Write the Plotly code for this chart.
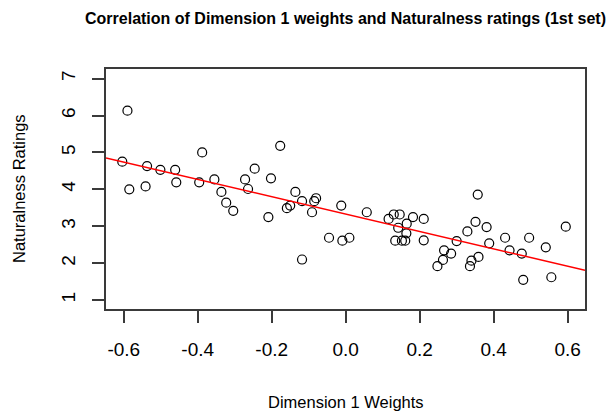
import plotly.graph_objects as go

# Dimension 1 weights (x) and naturalness ratings (y)
dim1_weights = [
    -0.590, -0.604, -0.585, -0.537, -0.541, -0.501, -0.461, -0.458, -0.388, -0.396,
    -0.355, -0.336, -0.323, -0.304, -0.272, -0.264, -0.246,
    -0.177, -0.202, -0.209, -0.136, -0.159, -0.150, -0.118, -0.118, -0.091, -0.085,
    -0.080, -0.045, -0.012, -0.009, 0.010, 0.057, 0.116, 0.130, 0.146, 0.142, 0.165,
    0.182, 0.164, 0.134, 0.152, 0.161,
    0.211, 0.211, 0.357, 0.351, 0.329, 0.381, 0.300, 0.388, 0.266, 0.285, 0.263,
    0.248, 0.340, 0.336, 0.359, 0.431, 0.443, 0.476, 0.496, 0.541, 0.595, 0.480, 0.556,
]
naturalness = [
    6.13, 4.75, 4.00, 4.63, 4.08, 4.53, 4.53, 4.19, 5.00, 4.19,
    4.27, 3.93, 3.64, 3.42, 4.27, 4.01, 4.56,
    5.18, 4.30, 3.25, 3.93, 3.49, 3.56, 3.68, 2.10, 3.38, 3.68,
    3.76, 2.69, 3.56, 2.61, 2.69, 3.38, 3.20, 3.32, 3.32, 2.96, 3.07,
    3.25, 2.81, 2.61, 2.61, 2.61,
    3.20, 2.62, 3.86, 3.12, 2.86, 2.98, 2.60, 2.54, 2.35, 2.26, 2.09,
    1.92, 2.07, 1.92, 2.17, 2.69, 2.35, 2.26, 2.69, 2.43, 2.99, 1.55, 1.62,
]

# Fitted regression line (abline of lm)
fit_intercept = 3.33
fit_slope = -2.35

x_ticks = [-0.6, -0.4, -0.2, 0.0, 0.2, 0.4, 0.6]
x_tick_labels = ["-0.6", "-0.4", "-0.2", "0.0", "0.2", "0.4", "0.6"]
y_ticks = [1, 2, 3, 4, 5, 6, 7]
y_tick_labels = ["1", "2", "3", "4", "5", "6", "7"]

x_range = [-0.648, 0.647]
y_range = [0.76, 7.26]

FONT = "Liberation Sans, Arial, sans-serif"
AXIS_COLOR = "#3a3a3a"

fig = go.Figure()
fig.add_trace(go.Scatter(
    x=dim1_weights, y=naturalness, mode="markers",
    marker=dict(symbol="circle-open", size=9, color="black",
                line=dict(color="black", width=1.2)),
    showlegend=False, hoverinfo="skip",
))
fig.add_trace(go.Scatter(
    x=x_range, y=[fit_intercept + fit_slope * v for v in x_range], mode="lines",
    line=dict(color="red", width=1.5), showlegend=False, hoverinfo="skip",
))

fig.update_layout(
    width=609, height=412,
    margin=dict(l=106, r=24, t=69, b=103),
    paper_bgcolor="white", plot_bgcolor="white",
    font=dict(family=FONT, color="black"),
    title=dict(text="<b>Correlation of Dimension 1 weights and Naturalness ratings (1st set)</b>",
               x=0.5, xref="paper", xanchor="center",
               y=1 - 18 / 412, yref="container", yanchor="middle",
               font=dict(size=16, family=FONT, color="black")),
    xaxis=dict(range=x_range, tickvals=x_ticks, ticktext=x_tick_labels,
               showgrid=False, zeroline=False, showline=True, mirror=True,
               linecolor=AXIS_COLOR, linewidth=1.5, ticks="outside", ticklen=12,
               tickwidth=1.5, tickcolor=AXIS_COLOR, ticklabelstandoff=10,
               tickfont=dict(size=19, family=FONT, color="black")),
    yaxis=dict(range=y_range, tickvals=y_ticks, ticktext=y_tick_labels,
               showgrid=False, zeroline=False, showline=True, mirror=True,
               linecolor=AXIS_COLOR, linewidth=1.5, ticks="outside", ticklen=12,
               tickwidth=1.5, tickcolor=AXIS_COLOR, tickangle=-90, ticklabelstandoff=10,
               tickfont=dict(size=19, family=FONT, color="black")),
    annotations=[
        dict(text="Dimension 1 Weights", xref="paper", yref="paper", x=0.5, y=0,
             xanchor="center", yanchor="middle", yshift=-93, showarrow=False,
             font=dict(size=16.5, family=FONT, color="black")),
        dict(text="Naturalness Ratings", xref="paper", yref="paper", x=0, y=0.5,
             xanchor="center", yanchor="middle", xshift=-87, textangle=-90,
             showarrow=False, font=dict(size=16.5, family=FONT, color="black")),
    ],
)

fig.write_html("out.html", config={"displayModeBar": False},
               post_script="document.body.style.margin='0px';")
